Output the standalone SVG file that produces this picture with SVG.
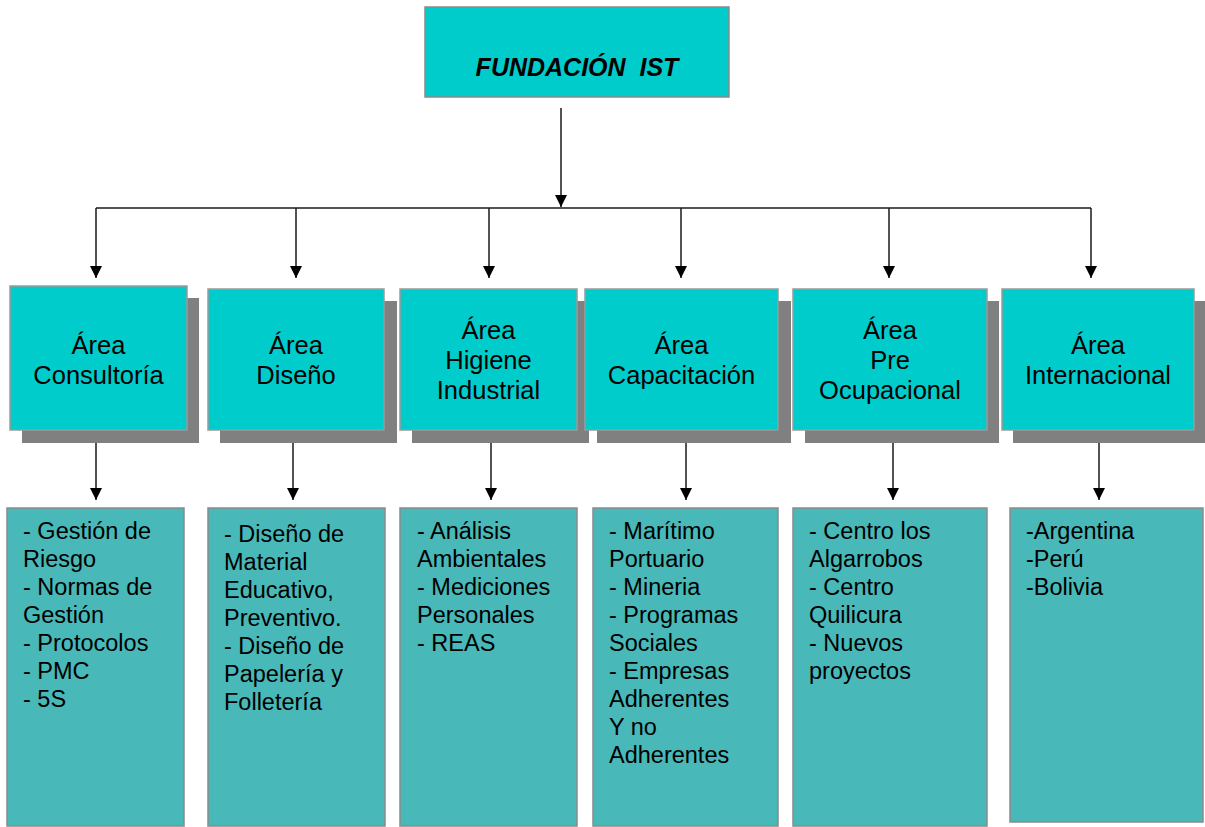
<svg xmlns="http://www.w3.org/2000/svg" width="1205" height="827" viewBox="0 0 1205 827">
<style>
.bg{fill:#ffffff}
.top{fill:#00CCCC;stroke:#8a8a8a;stroke-width:1.5}
.area{fill:#00CCCC;stroke:#9a9a9a;stroke-width:1.5}
.shadow{fill:#808080}
.list{fill:#48B8B8;stroke:#8a8a8a;stroke-width:1.5}
.title{font-family:"Liberation Sans",Arial,sans-serif;font-size:25px;font-weight:bold;font-style:italic;fill:#000;text-anchor:middle}
.at{font-family:"Liberation Sans",Arial,sans-serif;font-size:25.5px;fill:#000;text-anchor:middle}
.lt{font-family:"Liberation Sans",Arial,sans-serif;font-size:23.5px;fill:#000}
.conn{stroke:#1a1a1a;stroke-width:1.5;fill:none}
</style>
<defs>
<marker id="ah" markerUnits="userSpaceOnUse" markerWidth="12" markerHeight="12" refX="12" refY="6" orient="auto">
<path d="M0,0 L12,6 L0,12 z" fill="#000"/>
</marker>
</defs>
<rect class="bg" x="0" y="0" width="1205" height="827"/>

<g id="connectors">
<path class="conn" d="M561,108 V207" marker-end="url(#ah)"/>
<path class="conn" d="M96,208 H1091"/>
<path class="conn" d="M96,208 V278" marker-end="url(#ah)"/>
<path class="conn" d="M296,208 V278" marker-end="url(#ah)"/>
<path class="conn" d="M489,208 V278" marker-end="url(#ah)"/>
<path class="conn" d="M681,208 V278" marker-end="url(#ah)"/>
<path class="conn" d="M889,208 V278" marker-end="url(#ah)"/>
<path class="conn" d="M1091,208 V278" marker-end="url(#ah)"/>
<path class="conn" d="M96,430 V500" marker-end="url(#ah)"/>
<path class="conn" d="M293,430 V500" marker-end="url(#ah)"/>
<path class="conn" d="M491,430 V500" marker-end="url(#ah)"/>
<path class="conn" d="M686,430 V500" marker-end="url(#ah)"/>
<path class="conn" d="M893,430 V500" marker-end="url(#ah)"/>
<path class="conn" d="M1099,430 V500" marker-end="url(#ah)"/>
</g>

<g id="fundacion">
<rect class="top" x="425" y="7" width="304" height="90"/>
<text class="title" x="577" y="76" xml:space="preserve">FUNDACIÓN  IST</text>
</g>

<g id="area-consultoria">
<rect class="shadow" x="22" y="298" width="177" height="145"/>
<rect class="area" x="10" y="286" width="177" height="144"/>
<text class="at" x="98.5" y="354">Área</text>
<text class="at" x="98.5" y="384">Consultoría</text>
</g>
<g id="area-diseno">
<rect class="shadow" x="220" y="301" width="177" height="142"/>
<rect class="area" x="208" y="289" width="176" height="141"/>
<text class="at" x="296" y="354">Área</text>
<text class="at" x="296" y="384">Diseño</text>
</g>
<g id="area-higiene">
<rect class="shadow" x="412" y="301" width="177" height="142"/>
<rect class="area" x="400" y="289" width="177" height="141"/>
<text class="at" x="488.5" y="339">Área</text>
<text class="at" x="488.5" y="369">Higiene</text>
<text class="at" x="488.5" y="399">Industrial</text>
</g>
<g id="area-capacitacion">
<rect class="shadow" x="597" y="301" width="194" height="142"/>
<rect class="area" x="585" y="289" width="193" height="141"/>
<text class="at" x="681.5" y="354">Área</text>
<text class="at" x="681.5" y="384">Capacitación</text>
</g>
<g id="area-preocupacional">
<rect class="shadow" x="805" y="301" width="194" height="142"/>
<rect class="area" x="793" y="289" width="194" height="141"/>
<text class="at" x="890" y="339">Área</text>
<text class="at" x="890" y="369">Pre</text>
<text class="at" x="890" y="399">Ocupacional</text>
</g>
<g id="area-internacional">
<rect class="shadow" x="1013" y="301" width="194" height="142"/>
<rect class="area" x="1002" y="289" width="192" height="141"/>
<text class="at" x="1098" y="354">Área</text>
<text class="at" x="1098" y="384">Internacional</text>
</g>

<g id="list-consultoria">
<rect class="list" x="7" y="508" width="177" height="318"/>
<text class="lt" x="23" y="539">- Gestión de</text>
<text class="lt" x="23" y="567">Riesgo</text>
<text class="lt" x="23" y="595">- Normas de</text>
<text class="lt" x="23" y="623">Gestión</text>
<text class="lt" x="23" y="651">- Protocolos</text>
<text class="lt" x="23" y="679">- PMC</text>
<text class="lt" x="23" y="707">- 5S</text>
</g>
<g id="list-diseno">
<rect class="list" x="208" y="508" width="177" height="318"/>
<text class="lt" x="224" y="542">- Diseño de</text>
<text class="lt" x="224" y="570">Material</text>
<text class="lt" x="224" y="598">Educativo,</text>
<text class="lt" x="224" y="626">Preventivo.</text>
<text class="lt" x="224" y="654">- Diseño de</text>
<text class="lt" x="224" y="682">Papelería y</text>
<text class="lt" x="224" y="710">Folletería</text>
</g>
<g id="list-higiene">
<rect class="list" x="400" y="508" width="177" height="318"/>
<text class="lt" x="417" y="539">- Análisis</text>
<text class="lt" x="417" y="567">Ambientales</text>
<text class="lt" x="417" y="595">- Mediciones</text>
<text class="lt" x="417" y="623">Personales</text>
<text class="lt" x="417" y="651">- REAS</text>
</g>
<g id="list-capacitacion">
<rect class="list" x="593" y="508" width="185" height="318"/>
<text class="lt" x="609" y="539">- Marítimo</text>
<text class="lt" x="609" y="567">Portuario</text>
<text class="lt" x="609" y="595">- Mineria</text>
<text class="lt" x="609" y="623">- Programas</text>
<text class="lt" x="609" y="651">Sociales</text>
<text class="lt" x="609" y="679">- Empresas</text>
<text class="lt" x="609" y="707">Adherentes</text>
<text class="lt" x="609" y="735">Y no</text>
<text class="lt" x="609" y="763">Adherentes</text>
</g>
<g id="list-preocupacional">
<rect class="list" x="793" y="508" width="194" height="318"/>
<text class="lt" x="809" y="539">- Centro los</text>
<text class="lt" x="809" y="567">Algarrobos</text>
<text class="lt" x="809" y="595">- Centro</text>
<text class="lt" x="809" y="623">Quilicura</text>
<text class="lt" x="809" y="651">- Nuevos</text>
<text class="lt" x="809" y="679">proyectos</text>
</g>
<g id="list-internacional">
<rect class="list" x="1010" y="508" width="193" height="314"/>
<text class="lt" x="1026" y="539">-Argentina</text>
<text class="lt" x="1026" y="567">-Perú</text>
<text class="lt" x="1026" y="595">-Bolivia</text>
</g>
</svg>
